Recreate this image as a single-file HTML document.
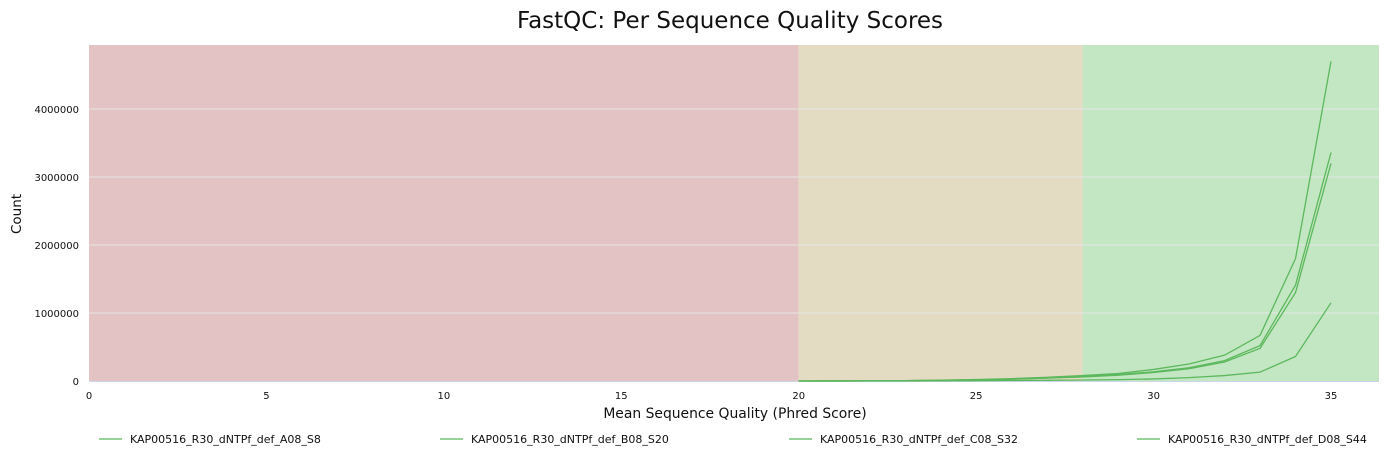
<!DOCTYPE html>
<html><head><meta charset="utf-8"><style>
body{margin:0;background:#fff;font-family:"Liberation Sans",sans-serif;}
svg text{font-family:"DejaVu Sans","Liberation Sans",sans-serif;}
</style></head><body>
<svg id="c" width="1389" height="460" xmlns="http://www.w3.org/2000/svg">
<text x="730" y="28" text-anchor="middle" font-size="23" fill="#111">FastQC: Per Sequence Quality Scores</text>
<text x="735" y="418" text-anchor="middle" font-size="13.9" fill="#111">Mean Sequence Quality (Phred Score)</text>
<text transform="translate(21,214) rotate(-90)" text-anchor="middle" font-size="13.5" fill="#111">Count</text>
</svg>
<script>
const qualities=[20,21,22,23,24,25,26,27,28,29,30,31,32,33,34,35];
const seriesNames=["KAP00516_R30_dNTPf_def_A08_S8","KAP00516_R30_dNTPf_def_B08_S20","KAP00516_R30_dNTPf_def_C08_S32","KAP00516_R30_dNTPf_def_D08_S44"];
const seriesA=[0,1000,3000,6000,12000,22000,35000,55000,80000,110000,170000,250000,380000,670000,1800000,4700000];
const seriesB=[0,800,2500,5000,10000,18000,28000,45000,65000,95000,135000,195000,300000,520000,1410000,3360000];
const seriesC=[0,700,2200,4500,9000,16000,26000,42000,60000,85000,125000,180000,280000,480000,1300000,3200000];
const seriesD=[0,200,600,1200,2500,4500,7000,10000,15000,20000,30000,50000,80000,130000,360000,1150000];
const yTicks=[0,1000000,2000000,3000000,4000000];
const xTicks=[0,5,10,15,20,25,30,35];
const NS="http://www.w3.org/2000/svg",svg=document.getElementById('c');
const L=89,R=1379,T=45,B=381;
const xs=v=>L+v*(1331-L)/35, ys=v=>B-v*(B-109)/4000000;
function mk(t,a,p){const e=document.createElementNS(NS,t);for(const k in a)e.setAttribute(k,a[k]);(p||svg).appendChild(e);return e;}
let r;
r=mk('rect',{x:L,y:T,width:xs(20)-L,height:B-T,fill:'#e3c3c3'});


r=mk('rect',{x:xs(20),y:T,width:xs(28)-xs(20),height:B-T,fill:'#e4dbc3'});


r=mk('rect',{x:xs(28),y:T,width:R-xs(28),height:B-T,fill:'#c3e6c3'});


yTicks.forEach(v=>{
 if(v>0){const g=mk('line',{x1:L,x2:R,y1:ys(v),y2:ys(v),stroke:'#e6e6e6','stroke-width':1});
 
 }
 const t=mk('text',{x:L-10,y:ys(v)+4,'text-anchor':'end','font-size':10,fill:'#111'});t.textContent=String(v);
 
 
});
mk('line',{x1:L,x2:R,y1:B+0.5,y2:B+0.5,stroke:'#ccd6eb'});
xTicks.forEach(v=>{
 const t=mk('text',{x:xs(v),y:B+18,'text-anchor':'middle','font-size':10,fill:'#111'});t.textContent=String(v);
 
 
});
const all=[seriesA,seriesB,seriesC,seriesD];
all.forEach((s,i)=>{
 const p=mk('polyline',{points:s.map((v,j)=>xs(qualities[j])+','+ys(v)).join(' '),fill:'none',stroke:'#5cb85c','stroke-width':1.3});
 
 
});
const legX=[99,440,789,1137];
seriesNames.forEach((n,i)=>{
 const g=mk('g',{});
 
 
 mk('line',{x1:legX[i],x2:legX[i]+23,y1:439,y2:439,stroke:'#5cb85c','stroke-width':1.3},g);
 const t=mk('text',{x:legX[i]+31,y:443,'font-size':11,fill:'#111'},g);t.textContent=n;
});
</script>
</body></html>
